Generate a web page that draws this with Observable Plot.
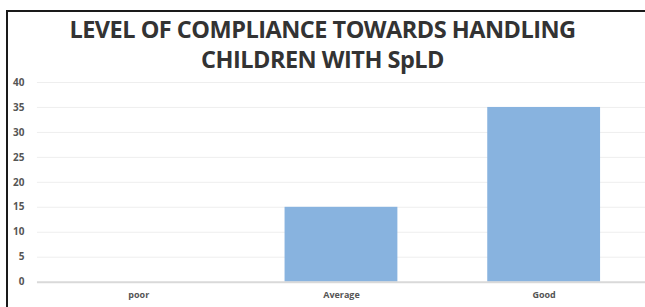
<!DOCTYPE html>
<html>
<head>
<meta charset="utf-8">
<script src="https://cdn.jsdelivr.net/npm/d3@7"></script>
<script src="https://cdn.jsdelivr.net/npm/@observablehq/plot@0.6"></script>
<style>
  html, body { margin: 0; padding: 0; background: #fff; width: 645px; height: 307px; overflow: hidden; }
  #frame { position: absolute; left: 6px; top: 10px; width: 650px; height: 310px;
           border-left: 2px solid #1a1a1a; border-top: 2px solid #1a1a1a; }
  #title { position: absolute; left: 0; top: 14px; width: 645px; text-align: center;
           font-family: "Open Sans", sans-serif; font-weight: 700; font-size: 23.5px;
           line-height: 30px; color: #333; letter-spacing: -0.5px; }
  #chart { position: absolute; left: 0; top: 75px; }
</style>
</head>
<body>
<div id="frame"></div>
<div id="title">LEVEL OF COMPLIANCE TOWARDS HANDLING<br>CHILDREN WITH SpLD</div>
<div id="chart"></div>
<script>
const categories = ["poor", "Average", "Good"];
const values = [0, 15, 35];
const yTicks = [0, 5, 10, 15, 20, 25, 30, 35, 40];

const data = categories.map((c, i) => ({category: c, value: values[i]}));

const plot = Plot.plot({
  width: 646,
  height: 232,
  marginTop: 7,
  marginBottom: 25,
  marginLeft: 37,
  marginRight: 0,
  style: {fontFamily: "Open Sans, sans-serif", fontWeight: 700, color: "#555", background: "transparent"},
  x: {domain: categories, paddingInner: 0.444, paddingOuter: 0.222, label: null, tickSize: 0, tickPadding: 9, tickFormat: d => d},
  y: {domain: [0, 40], ticks: yTicks, label: null, tickSize: 0, tickPadding: 13},
  marks: [
    Plot.ruleY(yTicks.filter(d => d > 0), {stroke: "#eeeeee", strokeWidth: 1}),
    Plot.barY(data, {x: "category", y: "value", fill: "#88b3df"}),
    Plot.ruleY([0], {stroke: "#d9d9d9", strokeWidth: 2}),
    Plot.axisY({ticks: yTicks, tickSize: 0, tickPadding: 13, fontSize: 10, fill: "#555"}),
    Plot.axisX({tickSize: 0, tickPadding: 9, fontSize: 9, fill: "#555"})
  ]
});
document.getElementById("chart").appendChild(plot);
</script>
</body>
</html>
